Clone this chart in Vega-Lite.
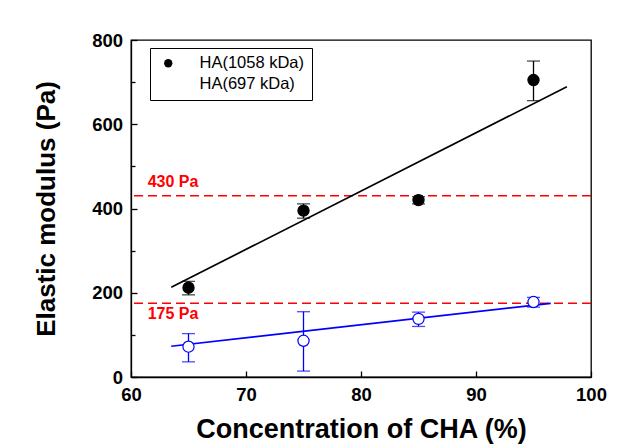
{
  "$schema": "https://vega.github.io/schema/vega-lite/v6.json",
  "width": 460,
  "height": 337,
  "autosize": {"type": "none"},
  "padding": {"left": 131, "top": 40, "right": 30, "bottom": 69},
  "background": "white",
  "config": {
    "font": "Liberation Sans",
    "view": {"stroke": "black", "strokeWidth": 1.3},
    "axis": {
      "domainColor": "black",
      "domainWidth": 1.3,
      "tickColor": "black",
      "tickWidth": 1.3,
      "grid": false,
      "labelFont": "Liberation Sans",
      "labelFontWeight": "bold",
      "labelFontSize": 18.5,
      "labelColor": "black",
      "titleFont": "Liberation Sans",
      "titleFontWeight": "bold",
      "titleFontSize": 26,
      "titleColor": "black"
    },
    "legend": {
      "orient": "none",
      "legendX": 19,
      "legendY": 8,
      "strokeColor": "black",
      "padding": 7,
      "labelFont": "Liberation Sans",
      "labelFontSize": 16.5,
      "labelColor": "black",
      "symbolType": "circle",
      "symbolSize": 70,
      "symbolStrokeColor": "transparent",
      "symbolStrokeWidth": 0,
      "symbolOffset": 3,
      "labelOffset": 23,
      "rowPadding": 4,
      "title": null
    }
  },
  "datasets": {
    "pts": [
      {"cha": 65, "modulus": 212, "lo": 195, "hi": 227, "series": "HA(1058 kDa)"},
      {"cha": 75, "modulus": 395, "lo": 377, "hi": 411, "series": "HA(1058 kDa)"},
      {"cha": 85, "modulus": 420, "lo": 411, "hi": 428, "series": "HA(1058 kDa)"},
      {"cha": 95, "modulus": 705, "lo": 656, "hi": 750, "series": "HA(1058 kDa)"},
      {"cha": 65, "modulus": 72, "lo": 36, "hi": 103, "series": "HA(697 kDa)"},
      {"cha": 75, "modulus": 86, "lo": 14, "hi": 155, "series": "HA(697 kDa)"},
      {"cha": 85, "modulus": 138, "lo": 120, "hi": 154, "series": "HA(697 kDa)"},
      {"cha": 95, "modulus": 178, "lo": 166, "hi": 189, "series": "HA(697 kDa)"}
    ],
    "fits": [
      {"cha": 63.5, "modulus": 213, "series": "HA(1058 kDa)"},
      {"cha": 97.9, "modulus": 689, "series": "HA(1058 kDa)"},
      {"cha": 63.5, "modulus": 73, "series": "HA(697 kDa)"},
      {"cha": 96.5, "modulus": 175, "series": "HA(697 kDa)"}
    ],
    "refs": [
      {"level": 430, "labelY": 462, "labelX": 61.45, "label": "430 Pa"},
      {"level": 175, "labelY": 149, "labelX": 61.45, "label": "175 Pa"}
    ]
  },
  "encoding": {
    "x": {
      "type": "quantitative",
      "scale": {"domain": [60, 100], "nice": false, "zero": false},
      "axis": {
        "title": "Concentration of CHA (%)",
        "titleFontSize": 27,
        "values": [60, 70, 80, 90, 100],
        "tickSize": -6,
        "labelPadding": 14,
        "titlePadding": 13,
        "labelFlush": false
      }
    },
    "y": {
      "type": "quantitative",
      "scale": {"domain": [0, 800], "nice": false, "zero": false},
      "axis": {
        "title": "Elastic modulus (Pa)",
        "values": [0, 100, 200, 300, 400, 500, 600, 700, 800],
        "labelExpr": "datum.value % 200 === 0 ? datum.label : ''",
        "tickSize": {"condition": {"test": "datum.value % 200 === 0", "value": -6}, "value": -4},
        "labelPadding": 14.5,
        "titlePadding": 32,
        "labelFlush": false
      }
    }
  },
  "layer": [
    {
      "data": {"name": "refs"},
      "mark": {"type": "rule", "color": "#ff0000", "strokeWidth": 1.5, "strokeDash": [9, 5]},
      "encoding": {
        "y": {"field": "level"}
      }
    },
    {
      "data": {"name": "refs"},
      "mark": {"type": "text", "color": "#ff0000", "font": "Liberation Sans", "fontWeight": "bold", "fontSize": 16, "align": "left", "baseline": "middle"},
      "encoding": {
        "x": {"field": "labelX"},
        "y": {"field": "labelY"},
        "text": {"field": "label"}
      }
    },
    {
      "data": {"name": "fits"},
      "mark": {"type": "line", "strokeWidth": 1.7},
      "encoding": {
        "x": {"field": "cha"},
        "y": {"field": "modulus"},
        "detail": {"field": "series"},
        "stroke": {"condition": {"test": "datum.series === 'HA(697 kDa)'", "value": "#0000ff"}, "value": "black"}
      }
    },
    {
      "data": {"name": "pts"},
      "mark": {"type": "rule", "strokeWidth": 1.3},
      "encoding": {
        "x": {"field": "cha"},
        "y": {"field": "lo"},
        "y2": {"field": "hi"},
        "stroke": {"condition": {"test": "datum.series === 'HA(697 kDa)'", "value": "#0000ff"}, "value": "black"}
      }
    },
    {
      "data": {"name": "pts"},
      "mark": {"type": "tick", "orient": "horizontal", "size": 13, "thickness": 1.3},
      "encoding": {
        "x": {"field": "cha"},
        "y": {"field": "lo"},
        "color": {"condition": {"test": "datum.series === 'HA(697 kDa)'", "value": "#0000ff"}, "value": "black"}
      }
    },
    {
      "data": {"name": "pts"},
      "mark": {"type": "tick", "orient": "horizontal", "size": 13, "thickness": 1.3},
      "encoding": {
        "x": {"field": "cha"},
        "y": {"field": "hi"},
        "color": {"condition": {"test": "datum.series === 'HA(697 kDa)'", "value": "#0000ff"}, "value": "black"}
      }
    },
    {
      "data": {"name": "pts"},
      "mark": {"type": "point", "shape": "circle", "size": 125, "strokeWidth": 1.2, "opacity": 1},
      "encoding": {
        "x": {"field": "cha"},
        "y": {"field": "modulus"},
        "fill": {
          "field": "series", "type": "nominal",
          "scale": {"domain": ["HA(1058 kDa)", "HA(697 kDa)"], "range": ["black", "white"]},
          "legend": {"title": null}
        },
        "stroke": {"condition": {"test": "datum.series === 'HA(697 kDa)'", "value": "#0000ff"}, "value": "black"}
      }
    }
  ]
}
